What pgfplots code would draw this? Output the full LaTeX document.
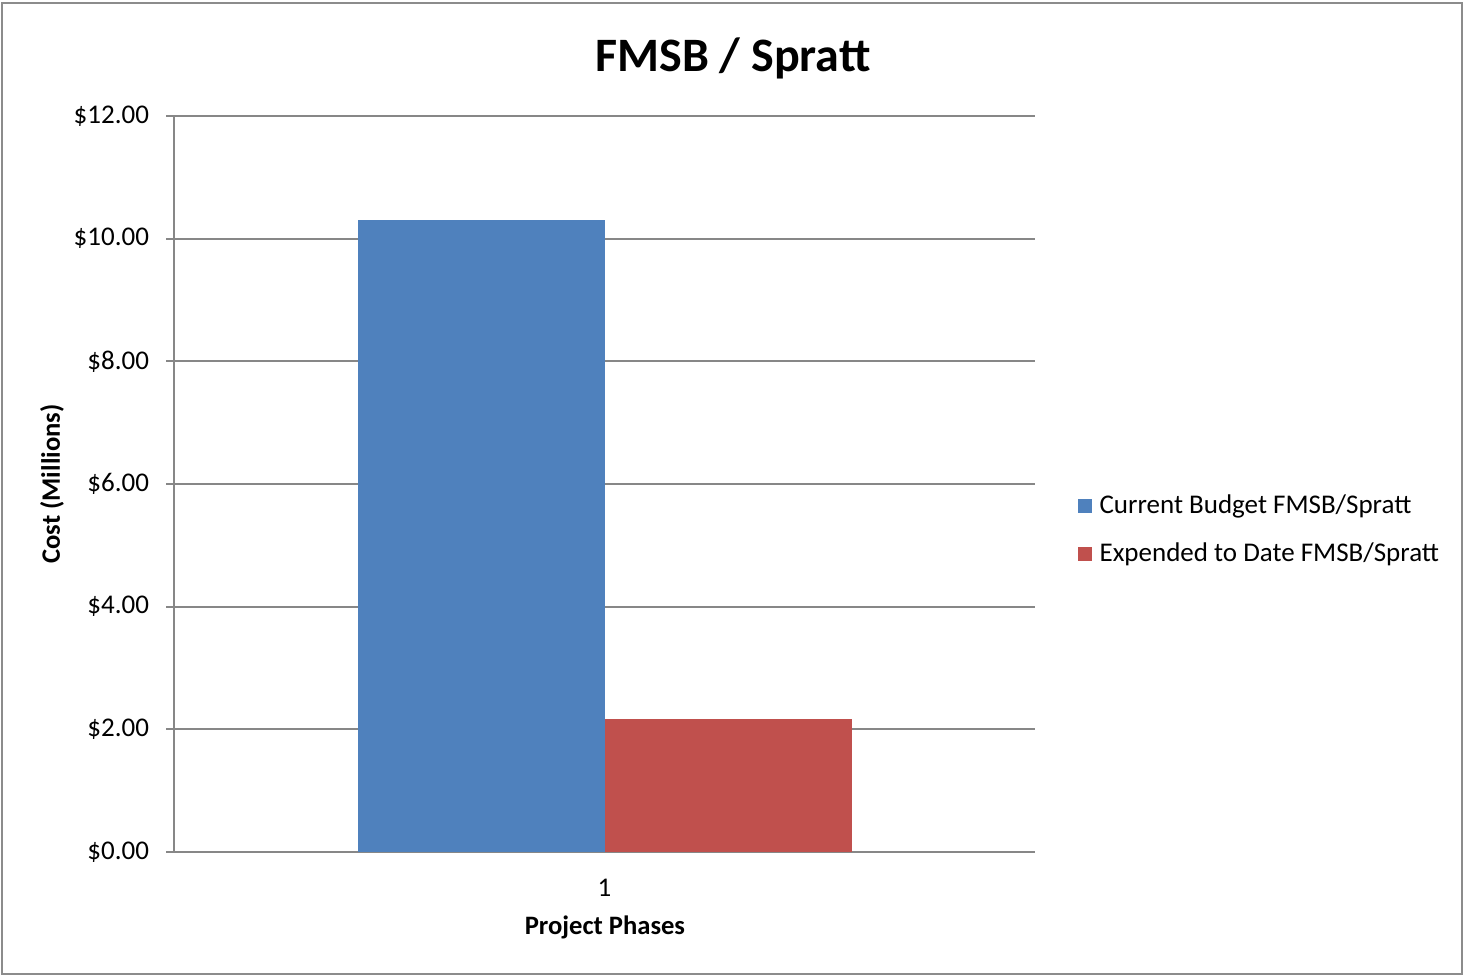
\documentclass[border=0pt]{standalone}
\usepackage{pgfplots}
\pgfplotsset{compat=1.18}
\usepackage{fontspec}
\setmainfont{Carlito}
\definecolor{cblue}{HTML}{4F81BD}
\definecolor{cred}{HTML}{C0504D}
\definecolor{gridc}{HTML}{878787}
\definecolor{framec}{HTML}{8C8C8C}
\begin{document}
\begin{tikzpicture}
\useasboundingbox (0pt,0pt) rectangle (731.5pt,488pt);
\draw[framec, line width=1pt] (0.75pt,1pt) rectangle (730.75pt,486.5pt);
\begin{axis}[
  at={(87pt,62pt)}, anchor=origin,
  scale only axis, width=430.5pt, height=368pt,
  ybar=0pt, bar width=123.5pt,
  xmin=0.5, xmax=1.5, ymin=0, ymax=12,
  xtick={1}, ytick={0,2,4,6,8,10,12},
  axis x line*=bottom, axis y line*=left,
  axis line style={gridc, line width=0.9pt, -},
  ymajorgrids, major grid style={gridc, line width=0.9pt},
  y tick style={gridc, line width=0.9pt}, tick align=outside,
  major tick length=4pt,
  x tick style={draw=none},
  /pgf/number format/assume math mode=true,
  ticklabel style={font=\fontsize{13.5}{16}\selectfont, black},
  yticklabel={\$\pgfmathprintnumber[fixed,fixed zerofill,precision=2]{\tick}},
  yticklabel style={xshift=-5pt},
  xticklabel style={yshift=-6pt},
  legend cell align=left,
  legend style={at={(1.049,0.4375)}, anchor=west, draw=none, fill=none,
    font=\fontsize{13.5}{16}\selectfont, row sep=9pt, inner sep=0pt,
    /tikz/every odd column/.append style={column sep=2pt}},
  legend image code/.code={\fill[#1] (0pt,-3.5pt) rectangle (7pt,3.5pt);},
]
\addplot[fill=cblue, draw=none] coordinates {(1,10.30)};
\addplot[fill=cred, draw=none] coordinates {(1,2.17)};
\legend{Current Budget FMSB/Spratt, Expended to Date FMSB/Spratt}
\end{axis}
\node[font=\fontsize{24}{29}\selectfont\bfseries] at (366.5pt,459pt) {FMSB / Spratt};
\node[font=\fontsize{13.3}{16}\selectfont\bfseries, rotate=90] at (26pt,246pt) {Cost (Millions)};
\node[font=\fontsize{13.3}{16}\selectfont\bfseries] at (302.5pt,24.5pt) {Project Phases};
\end{tikzpicture}
\end{document}
